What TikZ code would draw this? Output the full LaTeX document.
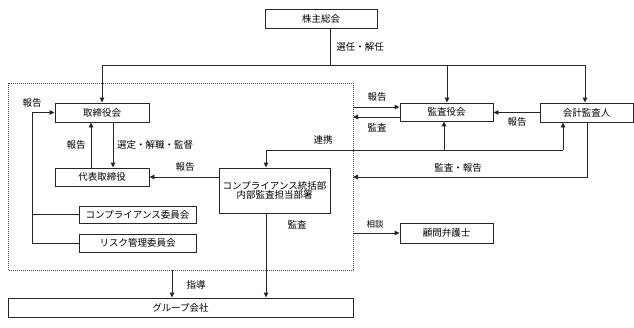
\documentclass[tikz,border=0pt]{standalone}
\usepackage{fontspec}
\setmainfont{Noto Sans CJK JP}
\usetikzlibrary{arrows.meta}
\begin{document}
\begin{tikzpicture}[x=1pt,y=-1pt,
  box/.style={draw=black!85,line width=0.9pt,rectangle,inner sep=0pt,font=\fontsize{9.5}{11}\selectfont,align=center},
  lab/.style={inner sep=0pt,font=\fontsize{9.5}{11}\selectfont},
  ln/.style={draw=black!85,line width=0.9pt},
  arr/.style={ln,-{Triangle[length=5pt,width=4.5pt]}}]
\useasboundingbox (0,0) rectangle (634,327);
\fill[white] (0,0) rectangle (634,327);
% dotted region
\draw[black!70,line width=0.8pt,dash pattern=on 0.8pt off 1.2pt] (8,83) rectangle (353,270);
% nodes
\node[box,minimum width=112pt,minimum height=19pt] (kabu) at (321,18.5) {株主総会};
\node[box,minimum width=94pt,minimum height=19pt] (tori) at (102,112.5) {取締役会};
\node[box,minimum width=94pt,minimum height=18pt] (daihyo) at (102,177) {代表取締役};
\node[box,minimum width=117pt,minimum height=17pt] (comp) at (137.5,214.5) {コンプライアンス委員会};
\node[box,minimum width=117pt,minimum height=18pt] (risk) at (137.5,243) {リスク管理委員会};
\node[box,minimum width=111pt,minimum height=45pt] (cg) at (274.5,190.5) {コンプライアンス統括部\\[-2pt]内部監査担当部署};
\node[box,minimum width=93pt,minimum height=18pt] (kansa) at (446.5,112) {監査役会};
\node[box,minimum width=93pt,minimum height=19pt] (kaikei) at (586.5,112.5) {会計監査人};
\node[box,minimum width=93pt,minimum height=20pt] (komon) at (446.5,233) {顧問弁護士};
\node[box,minimum width=345pt,minimum height=19pt] (group) at (180.5,307.5) {グループ会社};
% coordinates
\coordinate (kj) at (330,65);
\coordinate (kl) at (102,65);
\coordinate (kr) at (585,65);
\coordinate (km) at (447,65);
\coordinate (fb) at (32,243);
\coordinate (fbt) at (32,112.5);
\coordinate (fbc) at (32,214.5);
\coordinate (rl) at (266,150);
\coordinate (rm) at (444,150);
\coordinate (rr) at (563,150);
\coordinate (dR1) at (353,107);
\coordinate (dR2) at (353,117);
\coordinate (kk1) at (587,177);
\coordinate (dR3) at (353,177);
\coordinate (dR4) at (353,233);
\coordinate (dB) at (172,270);
% connectors
\draw[ln] (kabu.south -| kj) -- (kj);
\draw[ln] (kl) -- (kr);
\draw[arr] (kl) -- (tori.north);
\draw[arr] (km) -- (kansa.north -| km);
\draw[arr] (kr) -- (kaikei.north -| kr);
\draw[ln] (fb) -- (risk.west |- fb);
\draw[ln] (fbc) -- (comp.west);
\draw[arr] (fb) -- (fbt) -- (tori.west);
\draw[arr] (daihyo.north -| 91,0) -- (tori.south -| 91,0);
\draw[arr] (tori.south -| 113,0) -- (daihyo.north -| 113,0);
\draw[arr] (cg.west |- daihyo) -- (daihyo.east);
\draw[ln] (rl) -- (rr);
\draw[arr] (rl) -- (cg.north -| rl);
\draw[arr] (rm) -- (kansa.south -| rm);
\draw[arr] (rr) -- (kaikei.south -| rr);
\draw[arr] (dR1) -- (kansa.west |- dR1);
\draw[arr] (kansa.west |- dR2) -- (dR2);
\draw[arr] (kaikei.west) -- (kansa.east |- kaikei.west);
\draw[arr] (kaikei.south -| kk1) -- (kk1) -- (dR3);
\draw[arr] (dR4) -- (komon.west);
\draw[arr] (cg.south -| rl) -- (group.north -| rl);
\draw[arr] (dB) -- (group.north -| dB);
% labels
\node[lab] (l1) at (360,47) {選任・解任};
\node[lab] (l2) at (32,103) {報告};
\node[lab] (l3) at (76,145) {報告};
\node[lab] (l4) at (155,145) {選定・解職・監督};
\node[lab] (l5) at (185,167) {報告};
\node[lab] (l6) at (323,140) {連携};
\node[lab] (l7) at (377,97) {報告};
\node[lab] (l8) at (377,128) {監査};
\node[lab] (l9) at (517,122) {報告};
\node[lab] (l10) at (458,168) {監査・報告};
\node[lab,font=\fontsize{8.5}{10}\selectfont] (l11) at (375,224) {相談};
\node[lab] (l12) at (297,225) {監査};
\node[lab] (l13) at (196,285) {指導};
\end{tikzpicture}
\end{document}
